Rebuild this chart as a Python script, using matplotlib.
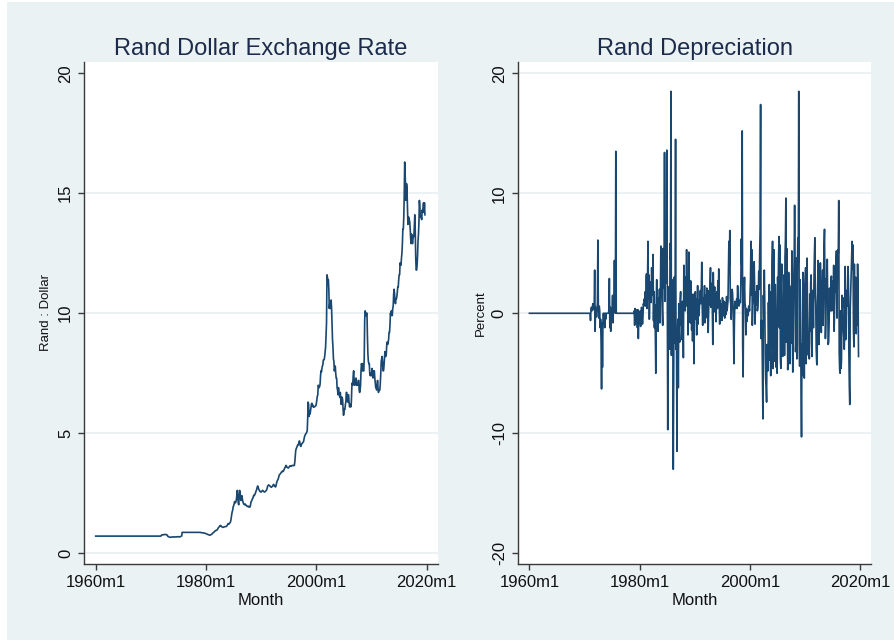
import matplotlib
matplotlib.use("Agg")
import matplotlib.pyplot as plt
import numpy as np
from matplotlib.patches import Rectangle

plt.rcParams['font.family'] = ['Liberation Sans', 'DejaVu Sans']

# Rand per US dollar, monthly, 1960m1 - 2019m9
rate = (
    [0.714] * 132                                                                 # 1960-1970
    + [0.714, 0.714, 0.714, 0.714, 0.714, 0.714, 0.714, 0.714, 0.714, 0.714, 0.72, 0.75]   # 1971
    + [0.768, 0.768, 0.768, 0.768, 0.768, 0.78, 0.785, 0.785, 0.78, 0.775, 0.77, 0.77]     # 1972
    + [0.74, 0.70, 0.69, 0.68, 0.675, 0.67, 0.665, 0.67, 0.67, 0.67, 0.675, 0.68]          # 1973
    + [0.68, 0.685, 0.68, 0.675, 0.675, 0.68, 0.68, 0.685, 0.68, 0.685, 0.69, 0.69]        # 1974
    + [0.69, 0.68, 0.68, 0.69, 0.69, 0.70, 0.71, 0.72, 0.87, 0.87, 0.87, 0.87]             # 1975
    + [0.87] * 36                                                                 # 1976-1978
    + [0.865, 0.86, 0.86, 0.855, 0.85, 0.85, 0.845, 0.84, 0.84, 0.835, 0.83, 0.825]        # 1979
    + [0.815, 0.805, 0.80, 0.79, 0.78, 0.775, 0.765, 0.755, 0.75, 0.755, 0.765, 0.77]      # 1980
    + [0.78, 0.80, 0.83, 0.85, 0.86, 0.87, 0.90, 0.92, 0.93, 0.95, 0.95, 0.96]             # 1981
    + [0.97, 1.00, 1.04, 1.07, 1.09, 1.11, 1.14, 1.16, 1.15, 1.13, 1.11, 1.09]             # 1982
    + [1.08, 1.08, 1.09, 1.10, 1.10, 1.11, 1.11, 1.11, 1.12, 1.13, 1.16, 1.20]             # 1983
    + [1.24, 1.22, 1.22, 1.24, 1.27, 1.30, 1.38, 1.52, 1.64, 1.74, 1.80, 1.94]             # 1984
    + [1.98, 2.05, 2.15, 2.12, 2.10, 2.15, 2.25, 2.45, 2.62, 2.40, 2.10, 2.02]             # 1985
    + [2.30, 2.62, 2.45, 2.30, 2.20, 2.35, 2.40, 2.25, 2.15, 2.10, 2.05, 2.03]             # 1986
    + [2.02, 2.05, 2.03, 2.00, 1.98, 1.96, 1.95, 1.96, 1.94, 1.95, 1.93, 1.92]             # 1987
    + [1.95, 2.05, 2.15, 2.18, 2.22, 2.28, 2.30, 2.38, 2.42, 2.40, 2.45, 2.48]             # 1988
    + [2.55, 2.60, 2.65, 2.72, 2.80, 2.78, 2.70, 2.65, 2.62, 2.58, 2.57, 2.55]             # 1989
    + [2.55, 2.58, 2.60, 2.62, 2.60, 2.58, 2.56, 2.55, 2.56, 2.58, 2.60, 2.62]             # 1990
    + [2.65, 2.72, 2.80, 2.82, 2.85, 2.83, 2.82, 2.80, 2.78, 2.76, 2.75, 2.77]             # 1991
    + [2.78, 2.80, 2.85, 2.87, 2.83, 2.80, 2.78, 2.76, 2.80, 2.90, 2.98, 3.02]             # 1992
    + [3.05, 3.10, 3.18, 3.25, 3.28, 3.30, 3.32, 3.35, 3.38, 3.40, 3.42, 3.40]             # 1993
    + [3.42, 3.45, 3.50, 3.55, 3.58, 3.62, 3.66, 3.63, 3.58, 3.57, 3.56, 3.55]             # 1994
    + [3.58, 3.60, 3.62, 3.65, 3.63, 3.62, 3.64, 3.65, 3.66, 3.66, 3.65, 3.65]             # 1995
    + [3.66, 3.80, 4.05, 4.28, 4.35, 4.40, 4.45, 4.50, 4.50, 4.55, 4.62, 4.68]             # 1996
    + [4.62, 4.48, 4.45, 4.50, 4.55, 4.58, 4.60, 4.62, 4.65, 4.75, 4.85, 4.90]             # 1997
    + [4.95, 4.98, 5.00, 5.05, 5.10, 5.60, 6.30, 6.20, 5.70, 5.85, 5.80, 5.90]             # 1998
    + [6.05, 6.20, 6.25, 6.15, 6.18, 6.10, 6.08, 6.10, 6.10, 6.12, 6.14, 6.15]             # 1999
    + [6.25, 6.40, 6.55, 6.60, 7.00, 6.95, 6.90, 6.95, 7.05, 7.40, 7.60, 7.55]             # 2000
    + [7.70, 7.80, 7.85, 8.05, 8.05, 8.08, 8.20, 8.40, 8.60, 9.15, 9.60, 11.60]            # 2001
    + [11.50, 11.30, 11.40, 11.00, 10.20, 10.40, 10.20, 10.50, 10.55, 10.20, 9.50, 8.90]   # 2002
    + [8.60, 8.10, 8.00, 7.60, 7.70, 7.80, 7.50, 7.30, 7.30, 6.90, 6.80, 6.60]             # 2003
    + [6.90, 6.70, 6.60, 6.50, 6.70, 6.40, 6.20, 6.50, 6.50, 6.40, 6.00, 5.75]             # 2004
    + [5.90, 6.00, 6.00, 6.20, 6.30, 6.70, 6.70, 6.40, 6.30, 6.60, 6.60, 6.30]             # 2005
    + [6.10, 6.10, 6.20, 6.10, 6.30, 6.90, 7.10, 7.00, 7.40, 7.60, 7.20, 7.00]             # 2006
    + [7.20, 7.20, 7.30, 7.00, 7.00, 7.10, 7.00, 7.20, 7.20, 6.80, 6.70, 6.80]             # 2007
    + [7.00, 7.60, 7.90, 7.80, 7.60, 7.90, 7.60, 7.60, 8.10, 9.70, 10.10, 10.00]           # 2008
    + [9.90, 10.00, 10.00, 9.00, 8.30, 8.00, 7.90, 7.90, 7.50, 7.40, 7.50, 7.40]           # 2009
    + [7.50, 7.70, 7.40, 7.30, 7.60, 7.60, 7.60, 7.30, 7.10, 6.90, 7.00, 6.80]             # 2010
    + [7.00, 7.20, 6.90, 6.70, 6.80, 6.80, 6.80, 7.10, 7.50, 8.00, 8.10, 8.20]             # 2011
    + [7.90, 7.60, 7.60, 7.80, 8.10, 8.40, 8.20, 8.20, 8.30, 8.70, 8.80, 8.70]             # 2012
    + [8.80, 8.90, 9.20, 9.20, 9.50, 10.00, 9.90, 10.10, 10.00, 9.90, 10.20, 10.30]        # 2013
    + [10.80, 11.00, 10.80, 10.50, 10.40, 10.60, 10.60, 10.70, 10.90, 11.10, 11.10, 11.40] # 2014
    + [11.60, 11.60, 12.10, 12.00, 12.00, 12.30, 12.50, 12.90, 13.50, 13.50, 14.00, 14.90] # 2015
    + [16.30, 15.80, 15.40, 14.70, 15.40, 15.20, 14.40, 13.70, 14.00, 14.00, 13.90, 13.80] # 2016
    + [13.50, 13.10, 12.90, 13.30, 13.10, 12.90, 13.10, 13.20, 13.20, 13.70, 14.10, 13.40] # 2017
    + [12.30, 11.80, 11.80, 12.00, 12.40, 13.00, 13.30, 13.80, 14.70, 14.40, 14.00, 14.00] # 2018
    + [14.00, 13.90, 14.30, 14.20, 14.40, 14.60, 14.20, 14.60, 14.10]                      # 2019
)

# monthly depreciation of the rand, percent
depreciation = (
    [0.0] * 132                                                                   # 1960-1970
    + [0.0, -0.6, 0.3, 0.5, 0.2, 0.4, 0.8, 0.5, 0.3, 0.6, 3.6, -1.5]              # 1971
    + [0.5, 0.2, -0.3, 0.4, 0.8, 6.1, 0.5, -0.4, 0.6, 0.2, -1.2, -0.5]            # 1972
    + [-2.5, -6.3, -0.8, -4.5, -1.0, 0.0, -0.8, 0.0, -1.2, 0.0, -0.5, 0.0]        # 1973
    + [0.0, 0.0, 0.0, 0.0, 0.0, 0.3, 2.9, -1.2, 0.5, -1.5, 0.0, 0.0]              # 1974
    + [0.4, 1.5, -0.8, 0.6, 1.2, 4.4, 0.8, 0.0, 13.5, 0.0, 0.0, 0.0]              # 1975
    + [0.0] * 36                                                                  # 1976-1978
    + [0.2, -1.0, 0.4, -0.5, 0.3, -0.8, -0.3, -1.2, 0.3, -2.1, -0.5, -0.9]        # 1979
    + [-0.4, 0.2, -1.1, -0.6, 0.5, -0.2, -0.9, -0.4, 0.8, 0.6, 1.2, 0.9]          # 1980
    + [1.8, 0.6, 3.1, 3.3, 0.4, 2.5, 6.0, 1.2, 3.2, -0.5, 2.0, 1.1]               # 1981
    + [2.6, 0.9, 3.8, 1.5, 2.2, 4.9, -0.6, 1.8, -1.2, 0.7, -1.8, -5.0]            # 1982
    + [1.0, 2.8, -0.4, 0.8, -1.5, 1.3, 0.2, 2.0, -0.8, 1.6, 5.6, 1.9]             # 1983
    + [2.4, 0.3, -1.0, 5.4, 2.1, 3.6, 13.4, 1.0, 6.2, 2.5, 4.0, 13.6]             # 1984
    + [3.2, -9.7, 2.2, -2.0, 0.8, -3.0, 5.8, 4.5, 18.5, -3.5, 2.8, -1.0]          # 1985
    + [2.0, -13.0, -4.5, 3.0, -2.5, 1.5, 14.5, -3.0, -1.8, -11.5, -2.0, -0.5]     # 1986
    + [-6.2, 0.8, -1.5, -2.4, 1.1, 1.8, -1.0, 0.5, -2.2, 1.0, 0.3, -3.7]          # 1987
    + [4.0, 2.2, 1.5, 0.2, 3.0, 1.2, 5.3, 0.6, 2.8, -1.8, 1.0, 5.1]               # 1988
    + [2.4, 0.5, -0.8, 2.7, 1.5, -1.4, 0.8, -2.3, 1.6, 0.0, -4.2, -0.6]           # 1989
    + [0.9, 1.8, -0.5, 1.2, -1.8, 0.4, 2.3, -0.9, 1.1, -0.2, 0.6, 1.4]           # 1990
    + [1.9, 0.8, 2.0, 4.25, 0.5, -1.0, 1.3, -0.5, 0.9, 2.3, -0.8, 0.4]           # 1991
    + [1.5, 0.2, 2.1, -0.4, 1.0, -1.6, 0.3, 1.9, 0.7, 2.6, 3.8, 0.5]             # 1992
    + [1.2, 2.5, 0.3, -2.6, 3.4, 1.4, 0.8, 2.2, 0.1, 1.6, -0.7, 0.9]             # 1993
    + [1.8, 0.4, 2.7, 1.3, 3.7, 0.6, -0.9, 1.1, -0.3, 0.8, 0.2, -0.6]            # 1994
    + [1.3, 0.7, -0.2, 1.0, 0.3, -0.4, 0.9, 0.5, -0.1, 1.4, 0.2, 0.6]            # 1995
    + [1.0, 3.5, 6.0, 4.0, 6.9, 1.2, 0.8, -0.5, 1.5, 2.0, 1.7, 0.6]              # 1996
    + [-1.2, -4.2, -0.8, 1.0, 0.4, 0.8, 0.6, 1.2, 0.4, 2.3, 1.0, 0.8]            # 1997
    + [0.6, 0.8, 1.1, 0.9, 2.5, 6.2, 4.0, 15.2, -2.8, -5.3, 0.6, 1.9]            # 1998
    + [3.0, 0.9, 0.5, -1.8, 0.4, -0.7, 0.1, 0.3, -0.2, 0.6, 0.5, 0.2]            # 1999
    + [1.6, 2.8, 6.0, 1.5, 5.3, -1.0, 0.6, 1.1, 2.4, 4.3, 2.0, -0.9]             # 2000
    + [1.8, 1.0, 0.7, 2.3, 0.2, 0.5, 1.4, 3.5, 2.0, 5.0, 7.2, 17.4]              # 2001
    + [-2.1, -0.6, -1.3, -5.2, -8.8, 1.5, -0.8, 3.6, 1.2, -3.4, -5.5, -6.0]      # 2002
    + [-7.4, -2.6, -3.4, -4.8, 0.9, -2.2, 2.4, -3.9, -1.7, -5.2, 1.8, -2.8]      # 2003
    + [4.2, 6.0, -4.6, 1.8, 5.3, -3.0, -4.0, 2.4, 0.3, -4.5, -2.8, -5.0]         # 2004
    + [3.0, 1.5, 4.4, 6.4, -1.2, 5.7, -3.8, -4.6, 2.5, 4.1, -1.9, -3.6]          # 2005
    + [-2.0, 0.8, 3.2, -3.5, 4.6, 6.1, 9.6, -2.4, 5.4, 1.2, -4.7, -3.1]          # 2006
    + [3.4, -1.0, 2.3, -4.2, 1.6, 2.0, -2.5, 5.2, -1.3, -4.9, -2.2, 2.6]         # 2007
    + [4.5, 9.0, 3.8, -3.2, -2.0, 4.6, -3.8, 3.7, 6.3, 4.2, 18.5, -2.4]          # 2008
    + [-4.4, 2.8, -1.5, -6.8, -10.3, -2.6, -4.0, 3.4, -5.2, 1.1, -5.4, 2.0]      # 2009
    + [3.0, 3.8, -4.2, -1.8, 4.6, 0.5, -2.3, -3.5, -2.2, -3.8, 1.6, -1.5]        # 2010
    + [2.6, 3.2, -2.5, -3.6, 1.9, 0.6, -1.2, 2.4, 4.8, 6.3, 1.7, 0.8]            # 2011
    + [-3.0, -4.1, -4.3, 2.0, 4.4, 3.2, -2.6, 0.9, 1.1, 4.2, 2.1, -1.6]          # 2012
    + [2.5, 1.5, 3.6, -1.0, 3.2, 5.6, 7.0, 1.8, -2.1, -0.8, 2.9, 1.4]            # 2013
    + [4.5, 1.3, -2.6, -2.4, -0.9, 2.1, 0.4, 0.2, 2.5, 3.1, 0.2, 2.7]            # 2014
    + [2.0, 0.6, 4.0, -1.5, 0.3, 2.5, 1.8, 4.3, 5.2, -0.4, 3.6, 5.3]             # 2015
    + [5.0, 9.4, -3.3, -4.7, -5.0, 0.2, -4.6, -3.9, 1.5, 0.5, 1.3, -1.4]         # 2016
    + [-2.0, -3.0, -1.2, 3.9, -2.2, -2.0, 1.9, 0.6, 1.6, 3.9, 2.8, -3.2]         # 2017
    + [-6.1, -7.6, 0.4, 1.8, 3.4, 4.9, 6.0, 3.7, 5.7, -1.4, -2.8, 4.1]           # 2018
    + [-0.5, 0.8, 3.0, -1.7, 1.8, -1.0, 4.1, 1.8, -3.6]                          # 2019
)

month_ticks = [0, 240, 480, 720]          # months since 1960m1
month_labels = ["1960m1", "1980m1", "2000m1", "2020m1"]
rate_ticks = [0, 5, 10, 15, 20]
dep_ticks = [-20, -10, 0, 10, 20]

BG = "#EAF2F3"
NAVY = "#1A476F"
TITLE = "#1C2B4B"
AXIS = "#3A3A3A"

fig = plt.figure(figsize=(8.94, 6.40), dpi=100, facecolor="white")
fig.patches.append(Rectangle((7 / 894, 0), 1 - 7 / 894, 638 / 640,
                             transform=fig.transFigure, facecolor=BG,
                             edgecolor="none", zorder=-10))

ax1 = fig.add_axes([0.0943, 0.1183, 0.3953, 0.7853])
ax2 = fig.add_axes([0.5794, 0.1183, 0.3952, 0.7853])


def style(ax, yticks, grid_at, ylim, title, ylabel, ylabel_x):
    ax.set_facecolor("white")
    ax.set_xlim(-24.8, 743.8)
    ax.set_ylim(*ylim)
    for side in ("top", "right"):
        ax.spines[side].set_visible(False)
    for side in ("left", "bottom"):
        ax.spines[side].set_color(AXIS)
        ax.spines[side].set_linewidth(1.0)
    for g in grid_at:
        ax.axhline(g, color=BG, lw=1.4, zorder=0)
    ax.set_xticks(month_ticks)
    ax.set_xticklabels(month_labels)
    ax.set_yticks(yticks)
    ax.set_yticklabels([str(t) for t in yticks], rotation=90, va="center")
    ax.tick_params(axis="both", length=4, width=1.0, color=AXIS,
                   labelsize=12, labelcolor="#111111", pad=4)
    ax.set_title(title, fontsize=17, color=TITLE, pad=5)
    ax.set_xlabel("Month", fontsize=12, color="#111111", labelpad=2)
    ax.set_ylabel(ylabel, fontsize=9.5, color="#111111")
    ax.yaxis.set_label_coords(ylabel_x, 0.5)


months = np.arange(len(rate))
ax1.plot(months, rate, color=NAVY, lw=1.2)
style(ax1, rate_ticks, [0, 5, 10, 15], (-0.46, 20.48),
      "Rand Dollar Exchange Rate", "Rand : Dollar", -0.092)

months_dep = np.arange(len(depreciation))
ax2.plot(months_dep, depreciation, color=NAVY, lw=1.2)
style(ax2, dep_ticks, [-10, 0, 10, 20], (-20.92, 20.97),
      "Rand Depreciation", "Percent", -0.088)

fig.savefig("out.png", dpi=100, facecolor=fig.get_facecolor())
